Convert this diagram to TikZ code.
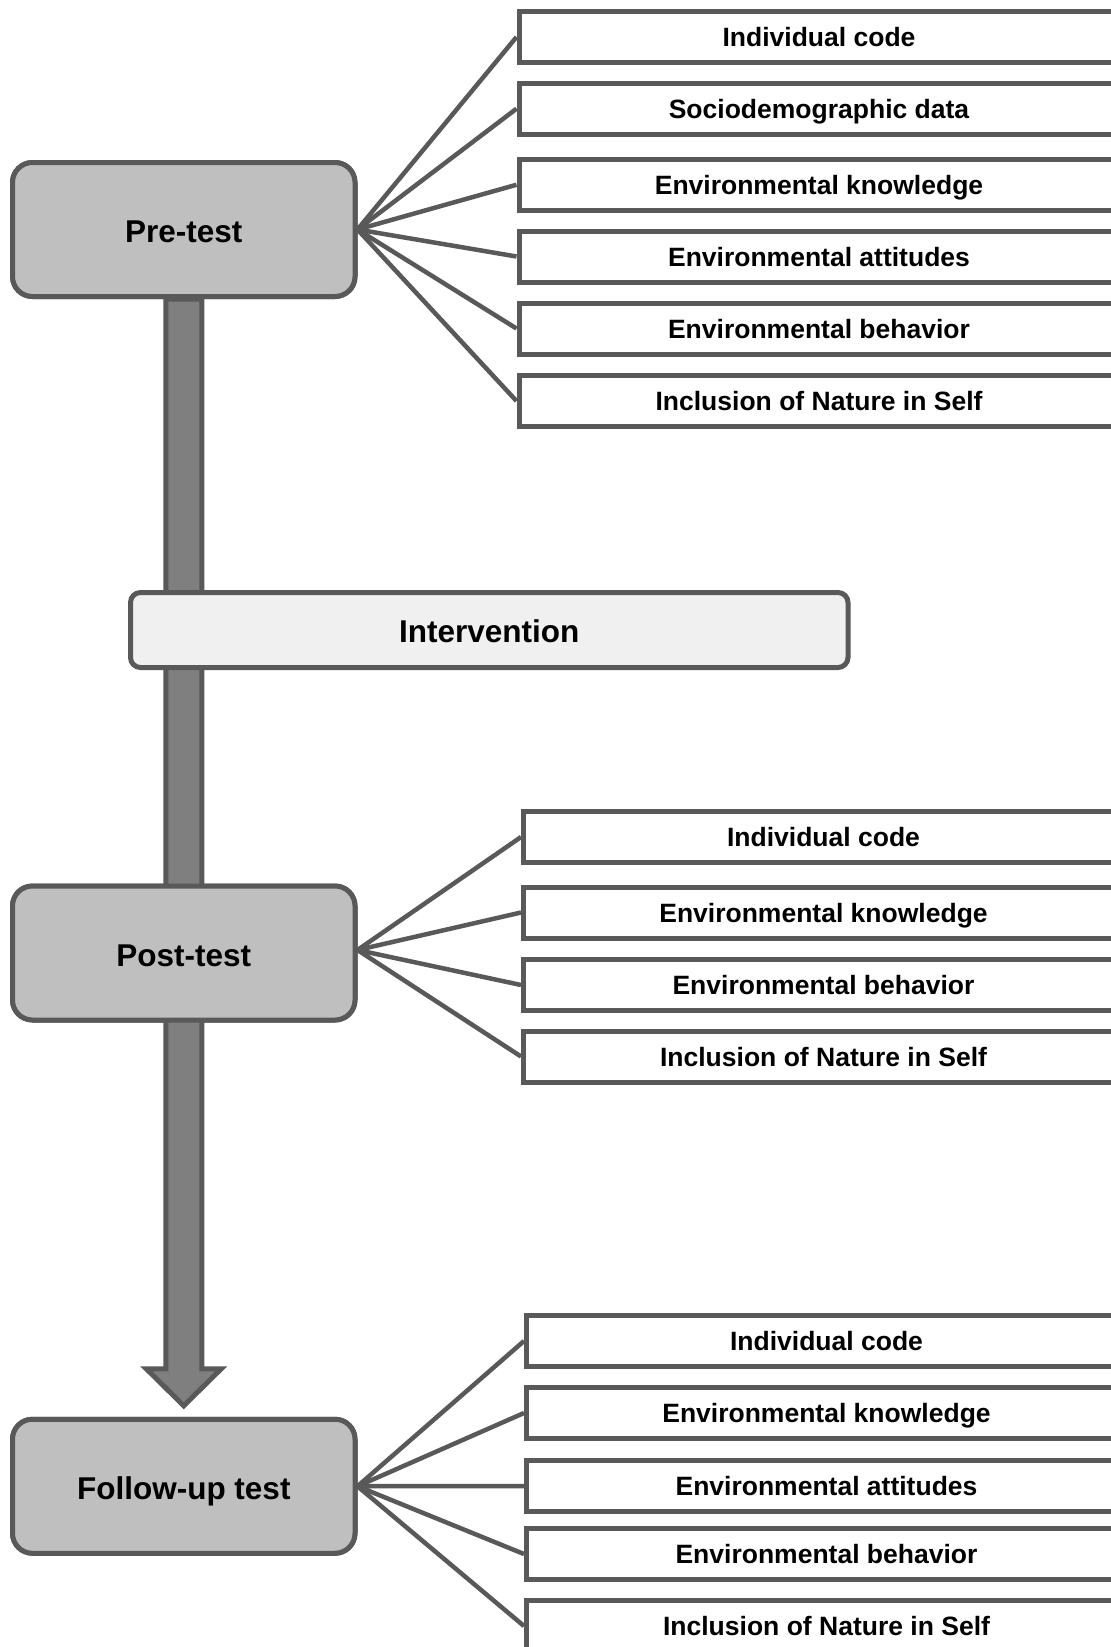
\documentclass[tikz,border=0pt]{standalone}
\usepackage{fontspec}
\setmainfont{Liberation Sans}
\usetikzlibrary{calc}
\definecolor{edge}{HTML}{595959}
\definecolor{testfill}{HTML}{BFBFBF}
\definecolor{introfill}{HTML}{F0F0F0}
\definecolor{shaftfill}{HTML}{7F7F7F}
\tikzset{
  testbox/.style={draw=edge, line width=5pt, fill=testfill, rounded corners=20pt,
    minimum width=342.5pt, minimum height=134pt, inner sep=0pt,
    text height=26pt, text depth=0pt,
    font=\fontsize{31.5}{36}\selectfont\bfseries},
  introbox/.style={draw=edge, line width=5pt, fill=introfill, rounded corners=10pt,
    minimum width=717.5pt, minimum height=75pt, inner sep=0pt,
    text height=24pt, text depth=0pt,
    font=\fontsize{31.5}{36}\selectfont\bfseries},
  itembox/.style={draw=edge, line width=5pt, fill=white, anchor=west,
    minimum width=600pt, minimum height=51pt, inner sep=0pt,
    text height=19pt, text depth=0pt,
    font=\fontsize{26.5}{30}\selectfont\bfseries},
  link/.style={draw=edge, line width=4.5pt},
  shaft/.style={draw=edge, line width=5pt, fill=shaftfill, line join=miter}
}
\begin{document}
\begin{tikzpicture}[x=1pt, y=-1pt]
\useasboundingbox (0,0) rectangle (1111,1647);
\clip (0,0) rectangle (1111,1647);
\fill[white] (0,0) rectangle (1111,1647);

% stage nodes (positioned first so the timeline arrow can use them)
\path (183.75,229.5) node[testbox] (pre) {Pre-test};
\path (183.75,953) node[testbox] (post) {Post-test};
\path (183.75,1486.25) node[testbox] (follow) {Follow-up test};
\coordinate (tip) at ($(follow.north)+(0,-11)$);

% timeline block arrow, drawn behind the stage boxes
\draw[shaft] ([xshift=-18pt]pre.south) -- ([xshift=18pt]pre.south)
  -- ($(tip)+(18,-37)$) -- ($(tip)+(37.5,-37)$) -- (tip)
  -- ($(tip)+(-37.5,-37)$) -- ($(tip)+(-18,-37)$) -- cycle;

% redraw stage boxes on top of the arrow
\node[testbox] at (pre) {Pre-test};
\node[testbox] at (post) {Post-test};
\node[testbox] at (follow) {Follow-up test};
\node[introbox] (intro) at (489.25,630) {Intervention};

% pre-test measures
\node[itembox] (a1) at (516.5,37) {Individual code};
\node[itembox] (a2) at (516.5,108.7) {Sociodemographic data};
\node[itembox] (a3) at (516.5,184.75) {Environmental knowledge};
\node[itembox] (a4) at (516.5,256.5) {Environmental attitudes};
\node[itembox] (a5) at (516.5,328.5) {Environmental behavior};
\node[itembox] (a6) at (516.5,401) {Inclusion of Nature in Self};
\foreach \i in {1,...,6} \draw[link] (pre.east) -- (a\i.west);

% post-test measures
\node[itembox] (b1) at (521,837) {Individual code};
\node[itembox] (b2) at (521,912.5) {Environmental knowledge};
\node[itembox] (b3) at (521,985) {Environmental behavior};
\node[itembox] (b4) at (521,1056.5) {Inclusion of Nature in Self};
\foreach \i in {1,...,4} \draw[link] ([yshift=3pt]post.east) -- (b\i.west);

% follow-up measures
\node[itembox] (c1) at (524,1341) {Individual code};
\node[itembox] (c2) at (524,1413) {Environmental knowledge};
\node[itembox] (c3) at (524,1486) {Environmental attitudes};
\node[itembox] (c4) at (524,1554) {Environmental behavior};
\node[itembox] (c5) at (524,1626) {Inclusion of Nature in Self};
\foreach \i in {1,...,5} \draw[link] (follow.east) -- (c\i.west);
\end{tikzpicture}
\end{document}
